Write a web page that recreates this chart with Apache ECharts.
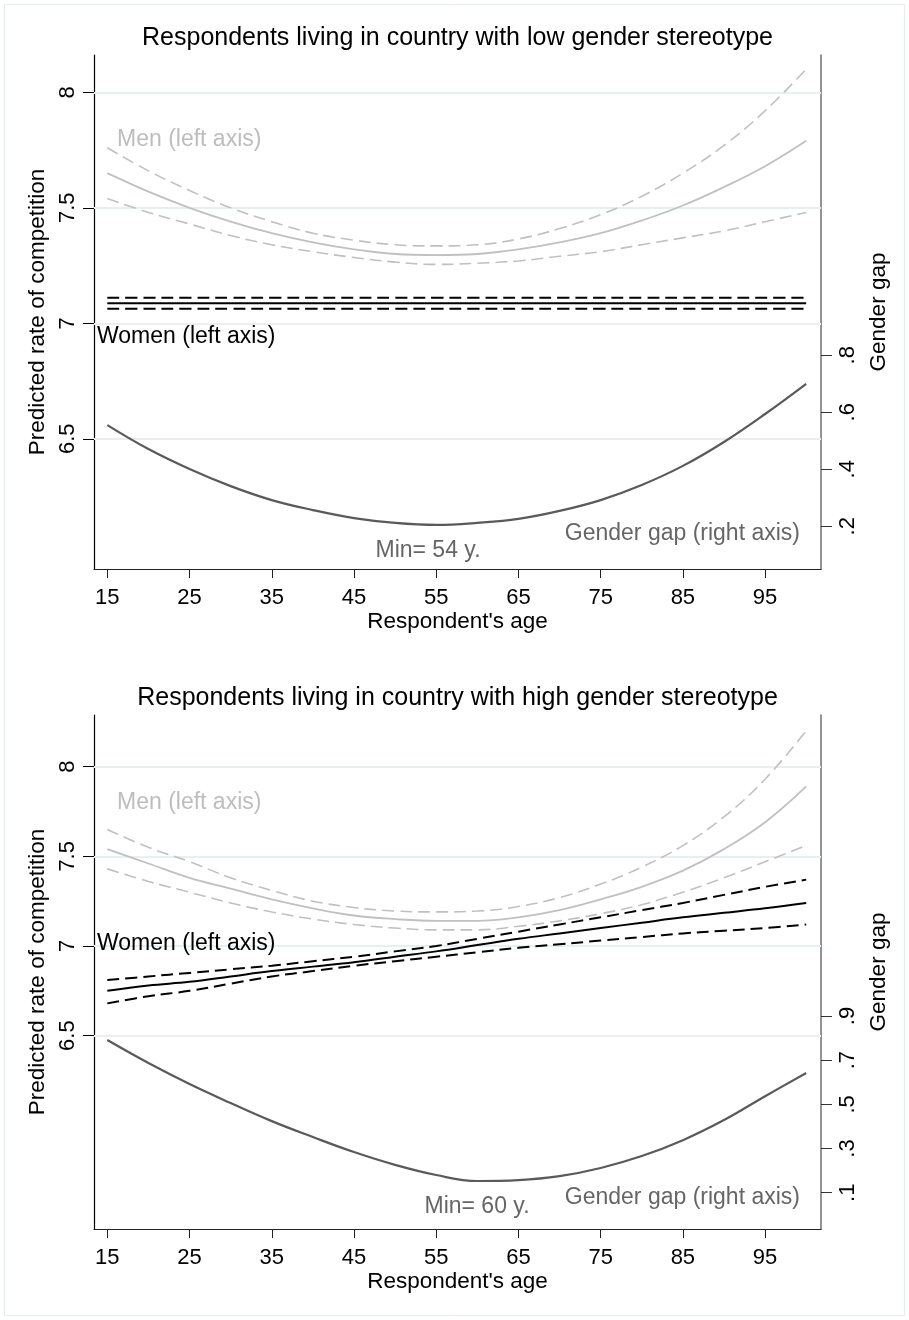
<!DOCTYPE html>
<html>
<head>
<meta charset="utf-8">
<script src="https://cdn.jsdelivr.net/npm/echarts@6/dist/echarts.min.js"></script>
<style>
html,body{margin:0;padding:0;background:#fff;}
#c{width:909px;height:1320px;}
</style>
</head>
<body>
<div id="c"></div>
<script>
// ---------- data ----------
const ages = [15,20,25,30,35,40,45,50,55,60,65,70,75,80,85,90,95,100];
const xTicks = [15,25,35,45,55,65,75,85,95];
const leftTicks = [6.5,7,7.5,8];
const rightTicksLow = [0.2,0.4,0.6,0.8];
const rightTicksHigh = [0.1,0.3,0.5,0.7,0.9];

// Panel 1: low gender stereotype
const lowMen      = [7.65,7.57,7.50,7.44,7.39,7.35,7.32,7.30,7.295,7.30,7.32,7.35,7.39,7.445,7.51,7.59,7.68,7.79];
const lowMenHi    = [7.76,7.66,7.575,7.50,7.44,7.39,7.36,7.34,7.335,7.34,7.365,7.41,7.47,7.55,7.65,7.77,7.92,8.10];
const lowMenLo    = [7.54,7.48,7.43,7.38,7.34,7.31,7.285,7.265,7.255,7.26,7.27,7.29,7.31,7.34,7.37,7.40,7.44,7.48];
const lowWomen    = [7.087,7.087,7.087,7.087,7.087,7.087,7.087,7.087,7.087,7.087,7.087,7.087,7.087,7.087,7.087,7.087,7.087,7.087];
const lowWomenHi  = [7.111,7.111,7.111,7.111,7.111,7.111,7.111,7.111,7.111,7.111,7.111,7.111,7.111,7.111,7.111,7.111,7.111,7.111];
const lowWomenLo  = [7.063,7.063,7.063,7.063,7.063,7.063,7.063,7.063,7.063,7.063,7.063,7.063,7.063,7.063,7.063,7.063,7.063,7.063];
const lowGap      = [0.555,0.471,0.401,0.341,0.292,0.257,0.229,0.212,0.205,0.212,0.226,0.254,0.292,0.345,0.412,0.496,0.594,0.70];

// Panel 2: high gender stereotype
const highMen     = [7.54,7.46,7.38,7.32,7.26,7.21,7.17,7.15,7.14,7.14,7.16,7.20,7.26,7.33,7.42,7.54,7.69,7.89];
const highMenHi   = [7.65,7.55,7.47,7.38,7.31,7.25,7.215,7.195,7.19,7.195,7.22,7.27,7.345,7.44,7.56,7.72,7.93,8.20];
const highMenLo   = [7.43,7.36,7.30,7.24,7.19,7.15,7.12,7.10,7.09,7.09,7.11,7.14,7.18,7.23,7.30,7.38,7.47,7.56];
const highWomen   = [6.75,6.78,6.80,6.83,6.86,6.885,6.91,6.94,6.97,7.005,7.04,7.07,7.10,7.13,7.16,7.185,7.21,7.24];
const highWomenHi = [6.81,6.83,6.85,6.87,6.89,6.915,6.94,6.97,7.00,7.04,7.08,7.12,7.16,7.20,7.24,7.285,7.33,7.37];
const highWomenLo = [6.68,6.72,6.75,6.79,6.83,6.86,6.89,6.915,6.94,6.965,6.99,7.01,7.03,7.05,7.07,7.085,7.10,7.12];
const highGap     = [0.791,0.687,0.592,0.506,0.424,0.352,0.284,0.226,0.180,0.153,0.157,0.175,0.212,0.266,0.338,0.429,0.537,0.642];

const titles = ['Respondents living in country with low gender stereotype','Respondents living in country with high gender stereotype'];
const minLabels = ['Min= 54 y.','Min= 60 y.'];

// ---------- styling ----------
const FONT = '"Liberation Sans", Arial, Helvetica, sans-serif';
const MEN = '#c0c0c0', WOMEN = '#000000', GAP = '#5a5a5a', GRID = '#e7eff1';

const pair = (ys) => ages.map((a,i)=>[a, ys[i]]);

function xAxisDef(gi){
  return {
    type:'value', gridIndex:gi, min:13.38, max:101.8,
    name:"Respondent's age", nameLocation:'middle', nameGap:38,
    nameTextStyle:{fontFamily:FONT,fontSize:22.5,color:'#000'},
    axisLine:{show:true,onZero:false,lineStyle:{color:'#222',width:1.2}},
    axisTick:{show:true,length:9,customValues:xTicks,lineStyle:{color:'#222',width:1}},
    axisLabel:{show:true,customValues:xTicks,margin:18,fontFamily:FONT,fontSize:22,color:'#000'},
    splitLine:{show:false}
  };
}
function leftAxisDef(gi,min,max){
  return {
    type:'value', gridIndex:gi, position:'left', min:min, max:max,
    name:'Predicted rate of competition', nameLocation:'middle', nameGap:44,
    nameTextStyle:{fontFamily:FONT,fontSize:22.5,color:'#000'},
    axisLine:{show:true,lineStyle:{color:'#000',width:1.2}},
    axisTick:{show:true,length:11,customValues:leftTicks,lineStyle:{color:'#000',width:1}},
    axisLabel:{show:true,customValues:leftTicks,rotate:90,margin:15,fontFamily:FONT,fontSize:22,color:'#000',
      formatter:(v)=>String(v)},
    splitLine:{show:false}
  };
}
function rightAxisDef(gi,min,max,ticks){
  return {
    type:'value', gridIndex:gi, position:'right', min:min, max:max,
    name:'Gender gap', nameLocation:'middle', nameGap:37,
    nameTextStyle:{fontFamily:FONT,fontSize:22.5,color:'#000'},
    axisLine:{show:true,lineStyle:{color:'#707070',width:1.5}},
    axisTick:{show:true,length:11,customValues:ticks,lineStyle:{color:'#333',width:1}},
    axisLabel:{show:true,customValues:ticks,rotate:90,margin:16,fontFamily:FONT,fontSize:22,color:'#000',
      formatter:(v)=>String(Math.round(v*10)/10).replace(/^0\./,'.')},
    splitLine:{show:false}
  };
}
function lineSeries(xi,yi,ys,color,width,dash,z){
  return {type:'line',xAxisIndex:xi,yAxisIndex:yi,data:pair(ys),smooth:0.4,showSymbol:false,symbol:'none',
    silent:true,z:z,lineStyle:{color:color,width:width,type:dash?[12,6]:'solid'}};
}
function gridSeries(xi,yi){
  return {type:'line',xAxisIndex:xi,yAxisIndex:yi,data:[],z:0,silent:true,
    markLine:{silent:true,symbol:['none','none'],label:{show:false},animation:false,
      lineStyle:{color:GRID,width:2,type:'solid'},
      data:leftTicks.map(v=>({yAxis:v}))}};
}

const panelTop = [55, 715];
const panelH = 514;

function txt(text,x,y,color,size,align){
  return {type:'text',x:x,y:y,silent:true,z:100,
    style:{text:text,fill:color,font:size+'px '+FONT,align:align,textAlign:align,verticalAlign:'middle',textVerticalAlign:'middle'}};
}

const graphics = [
  {type:'rect',shape:{x:4.5,y:4.5,width:900,height:1311},style:{fill:'none',stroke:'#e6ecee',lineWidth:1},silent:true,z:-1},
];
[0,1].forEach(p=>{
  const off = p===0 ? 0 : 660;
  graphics.push(txt(titles[p],457.5,38+off,'#000',25,'center'));
});
graphics.push(txt('Men (left axis)',117,140,'#bdbdbd',23,'left'));
graphics.push(txt('Women (left axis)',97,337,'#000',23,'left'));
graphics.push(txt('Gender gap (right axis)',800,534,'#666',23,'right'));
graphics.push(txt(minLabels[0],428,551,'#666',23,'center'));
graphics.push(txt('Men (left axis)',117,803,'#bdbdbd',23,'left'));
graphics.push(txt('Women (left axis)',97,944,'#000',23,'left'));
graphics.push(txt('Gender gap (right axis)',800,1198,'#666',23,'right'));
graphics.push(txt(minLabels[1],477,1207,'#666',23,'center'));

const option = {
  animation:false,
  backgroundColor:'#ffffff',
  grid:[
    {left:94,width:727,top:panelTop[0],height:panelH,containLabel:false},
    {left:94,width:727,top:panelTop[1],height:panelH,containLabel:false}
  ],
  xAxis:[xAxisDef(0),xAxisDef(1)],
  yAxis:[
    leftAxisDef(0,5.9364,8.1615),
    rightAxisDef(0,0.0502,1.8537,rightTicksLow),
    leftAxisDef(1,5.422,8.288),
    rightAxisDef(1,-0.0643,2.2626,rightTicksHigh)
  ],
  series:[
    gridSeries(0,0),
    lineSeries(0,0,lowMenHi,MEN,1.6,true,5),
    lineSeries(0,0,lowMenLo,MEN,1.6,true,5),
    lineSeries(0,0,lowMen,MEN,1.8,false,5),
    lineSeries(0,0,lowWomenHi,WOMEN,2,true,6),
    lineSeries(0,0,lowWomenLo,WOMEN,2,true,6),
    lineSeries(0,0,lowWomen,WOMEN,2,false,6),
    lineSeries(0,1,lowGap,GAP,2.2,false,7),

    gridSeries(1,2),
    lineSeries(1,2,highMenHi,MEN,1.6,true,5),
    lineSeries(1,2,highMenLo,MEN,1.6,true,5),
    lineSeries(1,2,highMen,MEN,1.8,false,5),
    lineSeries(1,2,highWomenHi,WOMEN,2,true,6),
    lineSeries(1,2,highWomenLo,WOMEN,2,true,6),
    lineSeries(1,2,highWomen,WOMEN,2,false,6),
    lineSeries(1,3,highGap,GAP,2.2,false,7)
  ],
  graphic:graphics
};

const chart = echarts.init(document.getElementById('c'),null,{renderer:'canvas'});
chart.setOption(option);
</script>
</body>
</html>
